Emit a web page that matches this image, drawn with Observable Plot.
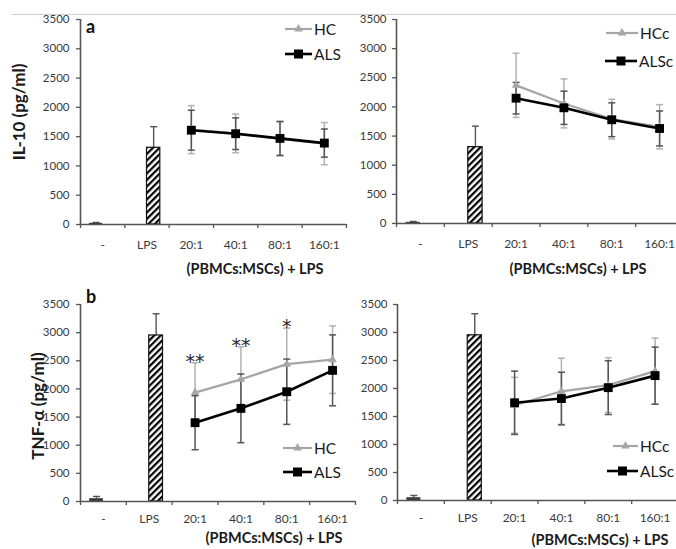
<!DOCTYPE html>
<html><head><meta charset="utf-8">
<script src="https://cdn.jsdelivr.net/npm/d3@7"></script>
<script src="https://cdn.jsdelivr.net/npm/@observablehq/plot@0.6"></script>
<style>
html,body{margin:0;padding:0;background:#fff;}
#root{position:relative;width:676px;height:549px;overflow:hidden;font-family:Lato,"Open Sans",sans-serif;}
.panel{position:absolute;}
#overlay{position:absolute;left:0;top:0;pointer-events:none;}
</style></head><body><div id="root"></div>
<script>
// ---------- data ----------
const categories = ["-", "LPS", "20:1", "40:1", "80:1", "160:1"];
const yTicks = [0, 500, 1000, 1500, 2000, 2500, 3000, 3500];

// IL-10 (pg/ml)
const il10Controls = [20, 1310];
const il10ControlErr = [15, 360];
const il10HC = [1620, 1555, 1460, 1380];
const il10HCErr = [410, 330, 290, 360];
const il10ALS = [1610, 1550, 1470, 1390];
const il10ALSErr = [340, 270, 290, 240];
const il10HCc = [2370, 2060, 1790, 1660];
const il10HCcErr = [550, 420, 340, 380];
const il10ALSc = [2150, 1985, 1780, 1630];
const il10ALScErr = [270, 285, 290, 300];

// TNF-α (pg/ml)
const tnfControls = [50, 2950];
const tnfControlErr = [40, 385];
const tnfHC = [1935, 2170, 2440, 2520];
const tnfHCErr = [530, 580, 640, 600];
const tnfALS = [1400, 1655, 1950, 2330];
const tnfALSErr = [480, 610, 580, 630];
const tnfHCc = [1700, 1950, 2060, 2310];
const tnfHCcErr = [500, 590, 490, 590];
const tnfALSc = [1745, 1820, 2015, 2230];
const tnfALScErr = [565, 470, 480, 510];

const tnfStars = ["**", "**", "*", ""];

// ---------- helpers ----------
const barOffsets = [[-0.3, 0], [0, 0.3]]; // clustered-bar slots
const capSymbol = {draw(ctx, size) { const r = Math.sqrt(size / Math.PI); ctx.moveTo(-r, 0); ctx.lineTo(r, 0); }};
const root = document.getElementById("root");
const AXIS = "#555";

function panel(cfg) {
  const hatchId = "hatch-" + cfg.key;
  const ctrl = cfg.controls.map((v, k) => ({i: k, v, e: cfg.controlErr[k], x1: k + barOffsets[k][0], x2: k + barOffsets[k][1]}));
  const series = (vals, errs) => vals.map((v, k) => ({i: k + 2, v, e: errs[k], lo: v - errs[k], hi: v + errs[k], star: cfg.stars ? cfg.stars[k] : ""}));
  const hc = series(cfg.hc, cfg.hcErr), als = series(cfg.als, cfg.alsErr);
  const caps = s => s.flatMap(d => [{i: d.i, y: d.lo}, {i: d.i, y: d.hi}]);
  const mid = d => (d.x1 + d.x2) / 2;
  const HCcol = "#a6a6a6", HCerr = "#b3b3b3", ALSerr = "#555";
  const marks = [
    // control bars
    Plot.ruleX(ctrl, {x: mid, y1: "v", y2: d => d.v + d.e, stroke: "#555", strokeWidth: 1.4}),
    Plot.dot(ctrl, {x: mid, y: d => d.v + d.e, symbol: capSymbol, r: 3.5, fill: "none", stroke: "#555", strokeWidth: 1.4}),
    Plot.rect(ctrl.filter(d => d.i === 0), {x1: "x1", x2: "x2", y1: 0, y2: "v", fill: "#3a3a3a"}),
    Plot.rect(ctrl.filter(d => d.i === 1), {x1: "x1", x2: "x2", y1: 0, y2: "v", fill: `url(#${hatchId})`, stroke: "#111", strokeWidth: 1.2}),
    // error bars
    Plot.ruleX(hc, {x: "i", y1: "lo", y2: "hi", stroke: HCerr, strokeWidth: 1.5}),
    Plot.dot(caps(hc), {x: "i", y: "y", symbol: capSymbol, r: 3.5, fill: "none", stroke: HCerr, strokeWidth: 1.5}),
    Plot.ruleX(als, {x: "i", y1: "lo", y2: "hi", stroke: ALSerr, strokeWidth: 1.5}),
    Plot.dot(caps(als), {x: "i", y: "y", symbol: capSymbol, r: 3.5, fill: "none", stroke: ALSerr, strokeWidth: 1.5}),
    // lines
    Plot.line(hc, {x: "i", y: "v", stroke: HCcol, strokeWidth: 2.2}),
    Plot.dot(hc, {x: "i", y: "v", symbol: "triangle", r: 3.2, fill: HCcol}),
    Plot.line(als, {x: "i", y: "v", stroke: "#000", strokeWidth: 2.6}),
    Plot.dot(als, {x: "i", y: "v", symbol: "square", r: 5, fill: "#000"}),
    // axes
    Plot.ruleY([0], {stroke: AXIS, strokeWidth: 1.6}),
    Plot.ruleX([-0.5], {stroke: AXIS, strokeWidth: 1.6}),
    Plot.axisX(d3.range(-0.5, 6, 1), {tickSize: 4, tickFormat: () => "", stroke: AXIS, strokeWidth: 1.3, label: null}),
    Plot.axisX(d3.range(0, 6), {tickSize: 0, tickPadding: cfg.labelPad, tickFormat: i => categories[i], label: null, fill: "#3a3a3a", fontSize: 12}),
    Plot.axisY(yTicks, {tickSize: 4, tickPadding: cfg.yPad, tickFormat: d => String(d), stroke: AXIS, strokeWidth: 1.3, label: null, fill: "#3a3a3a"})
  ];
  if (cfg.stars) marks.push(Plot.text(hc.filter(d => d.star), {x: "i", y: "hi", text: "star", dy: -1, fontSize: 19, fontFamily: "'DejaVu Sans', sans-serif", letterSpacing: "1px", fill: "#2a2a2a", lineAnchor: "middle"}));
  const svg = Plot.plot({
    width: cfg.width, height: cfg.height,
    marginLeft: cfg.ml, marginRight: cfg.mr, marginTop: cfg.mt, marginBottom: cfg.mb,
    x: {type: "linear", domain: [-0.5, 5.5]},
    y: {domain: [0, 3500]},
    style: {fontFamily: "Lato, 'Open Sans', sans-serif", fontSize: "11.5px", color: "#3a3a3a", background: "transparent", overflow: "visible"},
    marks
  });
  const defs = d3.select(svg).insert("defs", ":first-child");
  const pat = defs.append("pattern").attr("id", hatchId).attr("patternUnits", "userSpaceOnUse")
    .attr("width", 4.6).attr("height", 4.6).attr("patternTransform", "rotate(45)");
  pat.append("rect").attr("width", 4.6).attr("height", 4.6).attr("fill", "#fff");
  pat.append("rect").attr("width", 2.2).attr("height", 4.6).attr("fill", "#000");
  svg.classList.add("panel");
  svg.style.left = cfg.left + "px";
  svg.style.top = cfg.top + "px";
  root.appendChild(svg);
}

panel({key: "tl", left: 0, top: 0, width: 350, height: 260, ml: 80, mr: 4, mt: 19, mb: 36, labelPad: 16, yPad: 7,
  controls: il10Controls, controlErr: il10ControlErr, hc: il10HC, hcErr: il10HCErr, als: il10ALS, alsErr: il10ALSErr});
panel({key: "tr", left: 340, top: 0, width: 350, height: 260, ml: 56, mr: 7, mt: 19, mb: 37, labelPad: 16, yPad: 6,
  controls: il10Controls, controlErr: il10ControlErr, hc: il10HCc, hcErr: il10HCcErr, als: il10ALSc, alsErr: il10ALScErr});
panel({key: "bl", left: 0, top: 280, width: 360, height: 250, ml: 80, mr: 5, mt: 24, mb: 29, labelPad: 13, yPad: 7,
  controls: tnfControls, controlErr: tnfControlErr, hc: tnfHC, hcErr: tnfHCErr, als: tnfALS, alsErr: tnfALSErr, stars: tnfStars});
panel({key: "br", left: 340, top: 280, width: 345, height: 250, ml: 57, mr: 7, mt: 24, mb: 30, labelPad: 13, yPad: 6,
  controls: tnfControls, controlErr: tnfControlErr, hc: tnfHCc, hcErr: tnfHCcErr, als: tnfALSc, alsErr: tnfALScErr});

// ---------- overlay: titles, panel letters, legends ----------
const ov = d3.select(root).append("svg").attr("id", "overlay").attr("width", 676).attr("height", 549)
  .style("font-family", "Lato, 'Open Sans', sans-serif");
ov.append("line").attr("x1", 12).attr("x2", 676).attr("y1", 14.5).attr("y2", 14.5).attr("stroke", "#cfcfcf").attr("stroke-width", 1);

const letters = [{t: "a", x: 86, y: 33}, {t: "b", x: 86, y: 303}];
ov.selectAll("text.letter").data(letters).join("text").attr("class", "letter")
  .attr("x", d => d.x).attr("y", d => d.y).attr("font-size", 18).attr("font-weight", 700).attr("fill", "#111").text(d => d.t);

const yTitles = [{t: "IL-10 (pg/ml)", x: 18, y: 112}, {t: "TNF-α (pg/ml)", x: 37, y: 406}];
ov.selectAll("text.yt").data(yTitles).join("text").attr("class", "yt")
  .attr("transform", d => `translate(${d.x},${d.y}) rotate(-90)`).attr("text-anchor", "middle").attr("dominant-baseline", "central")
  .attr("font-size", 17).attr("font-weight", 700).attr("fill", "#1a1a1a").text(d => d.t);

const xTitle = "(PBMCs:MSCs) + LPS";
const xTitles = [{x: 255, y: 268}, {x: 578, y: 268}, {x: 274, y: 537}, {x: 600, y: 539}];
ov.selectAll("text.xt").data(xTitles).join("text").attr("class", "xt")
  .attr("x", d => d.x).attr("y", d => d.y).attr("text-anchor", "middle").attr("dominant-baseline", "central")
  .attr("font-size", 14.5).attr("font-weight", 700).attr("fill", "#1a1a1a").text(xTitle);

const legendNames = [["HC", "ALS"], ["HCc", "ALSc"], ["HC", "ALS"], ["HCc", "ALSc"]];
const legendPos = [
  [{x1: 285, x2: 312, y: 29}, {x1: 285, x2: 312, y: 54}],
  [{x1: 606, x2: 638, y: 33}, {x1: 605, x2: 637, y: 61}],
  [{x1: 283, x2: 312, y: 448}, {x1: 283, x2: 312, y: 472}],
  [{x1: 613, x2: 638, y: 446}, {x1: 607, x2: 638, y: 471}]
];
legendPos.forEach((rows, p) => rows.forEach((r, k) => {
  const g = ov.append("g");
  const isHC = k === 0;
  g.append("line").attr("x1", r.x1).attr("x2", r.x2).attr("y1", r.y).attr("y2", r.y)
    .attr("stroke", isHC ? "#a6a6a6" : "#000").attr("stroke-width", isHC ? 2.2 : 2.6);
  const cx = (r.x1 + r.x2) / 2;
  if (isHC) g.append("path").attr("d", d3.symbol(d3.symbolTriangle, 32)()).attr("transform", `translate(${cx},${r.y})`).attr("fill", "#a6a6a6");
  else g.append("rect").attr("x", cx - 4.5).attr("y", r.y - 4.5).attr("width", 9).attr("height", 9).attr("fill", "#000");
  g.append("text").attr("x", r.x2 + 2).attr("y", r.y).attr("dominant-baseline", "central")
    .attr("font-size", 15.5).attr("fill", "#1a1a1a").text(legendNames[p][k]);
}));
</script>
</body></html>
